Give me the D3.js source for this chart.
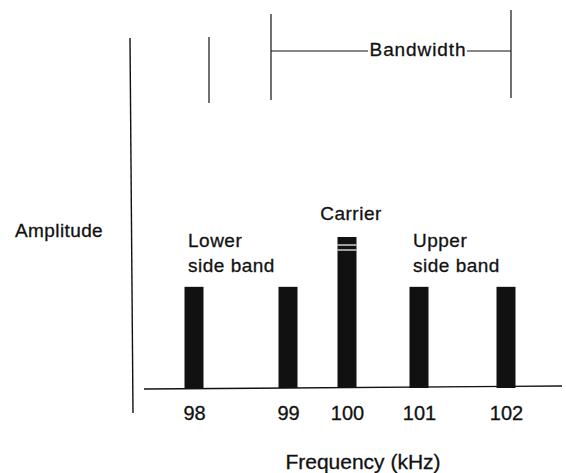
<!DOCTYPE html>
<html>
<head>
<meta charset="utf-8">
<script src="https://cdn.jsdelivr.net/npm/d3@7"></script>
<style>
  body { margin: 0; background: #fff; }
  text { font-family: "Liberation Sans", Arial, Helvetica, sans-serif; fill: #111; stroke: #111; stroke-width: 0.3px; }
</style>
</head>
<body>
<div id="chart"></div>
<script>
const width = 566;
const height = 473;

// spectrum of an AM signal
const frequencies = [98, 99, 100, 101, 102];
const amplitudes = [0.67, 0.67, 1, 0.67, 0.67];
const tickLabels = ['98', '99', '100', '101', '102'];
const xTitle = 'Frequency (kHz)';
const yTitle = 'Amplitude';
const bandLabels = [
  { lines: ['Lower', 'side band'], freq: 98 },
  { lines: ['Carrier'], freq: 100 },
  { lines: ['Upper', 'side band'], freq: 101 }
];

const colorInk = '#111';
const baseY = 388;
const barWidth = 19;

const svg = d3.select('#chart')
  .append('svg')
  .attr('width', width)
  .attr('height', height);

// hand drawn spacing, so the scale is piecewise
const x = d3.scaleLinear()
  .domain(frequencies)
  .range([194, 288, 347, 419, 506]);

const y = d3.scaleLinear()
  .domain([0, 1])
  .range([baseY, 237]);

// axes lines
svg.append('line')
  .attr('x1', 130).attr('y1', 38)
  .attr('x2', 133).attr('y2', 413)
  .attr('stroke', colorInk)
  .attr('stroke-width', 1.4);

svg.append('line')
  .attr('x1', 144).attr('y1', baseY + 1)
  .attr('x2', 562).attr('y2', baseY - 2)
  .attr('stroke', colorInk)
  .attr('stroke-width', 1.4);

// bars
svg.append('g')
  .selectAll('rect')
  .data(frequencies)
  .enter()
  .append('rect')
  .attr('x', d => x(d) - barWidth / 2)
  .attr('y', (d, i) => y(amplitudes[i]))
  .attr('width', barWidth)
  .attr('height', (d, i) => baseY - y(amplitudes[i]))
  .attr('fill', colorInk);

// the little white streaks on top of the carrier
const carrierIdx = frequencies.indexOf(100);
[8, 13].forEach(off => {
  svg.append('line')
    .attr('x1', x(100) - barWidth / 2)
    .attr('x2', x(100) + barWidth / 2)
    .attr('y1', y(amplitudes[carrierIdx]) + off)
    .attr('y2', y(amplitudes[carrierIdx]) + off)
    .attr('stroke', '#fff')
    .attr('stroke-width', 1.2);
});

// tick labels
const xAxis = d3.axisBottom(x)
  .tickValues(frequencies)
  .tickFormat((d, i) => tickLabels[i])
  .tickSize(0)
  .tickPadding(18);

const gx = svg.append('g')
  .attr('transform', 'translate(0,' + baseY + ')')
  .call(xAxis);
gx.select('.domain').remove();
gx.selectAll('text')
  .style('font-family', '"Liberation Sans", Arial, sans-serif')
  .style('font-size', '20px')
  .attr('fill', colorInk);

// titles
svg.append('text')
  .attr('x', 363)
  .attr('y', 469)
  .attr('text-anchor', 'middle')
  .style('font-size', '21px')
  .text(xTitle);

svg.append('text')
  .attr('x', 15)
  .attr('y', 237)
  .style('font-size', '19px')
  .style('letter-spacing', '0.4px')
  .text(yTitle);

// band labels
bandLabels.forEach(b => {
  const t = svg.append('text')
    .style('font-size', '19px')
    .style('letter-spacing', '0.5px');
  if (b.lines.length === 1) {
    t.attr('x', x(b.freq) + 4)
      .attr('y', 220)
      .attr('text-anchor', 'middle')
      .text(b.lines[0]);
  } else {
    b.lines.forEach((line, i) => {
      t.append('tspan')
        .attr('x', x(b.freq) - 6)
        .attr('y', 247 + i * 25)
        .text(line);
    });
  }
});

// bandwidth bracket and guide lines
const guides = [[209, 37, 103], [271, 14, 100], [511, 10, 98]];
svg.append('g')
  .selectAll('line')
  .data(guides)
  .enter()
  .append('line')
  .attr('x1', d => d[0]).attr('x2', d => d[0])
  .attr('y1', d => d[1]).attr('y2', d => d[2])
  .attr('stroke', colorInk)
  .attr('stroke-width', 1.2);

const bracketY = 51;
svg.append('line')
  .attr('x1', 271).attr('x2', 368)
  .attr('y1', bracketY).attr('y2', bracketY)
  .attr('stroke', colorInk)
  .attr('stroke-width', 1.2);
svg.append('line')
  .attr('x1', 467).attr('x2', 511)
  .attr('y1', bracketY).attr('y2', bracketY)
  .attr('stroke', colorInk)
  .attr('stroke-width', 1.2);
svg.append('text')
  .attr('x', 418)
  .attr('y', 56)
  .attr('text-anchor', 'middle')
  .style('font-size', '19px')
  .style('letter-spacing', '0.9px')
  .text('Bandwidth');
</script>
</body>
</html>
